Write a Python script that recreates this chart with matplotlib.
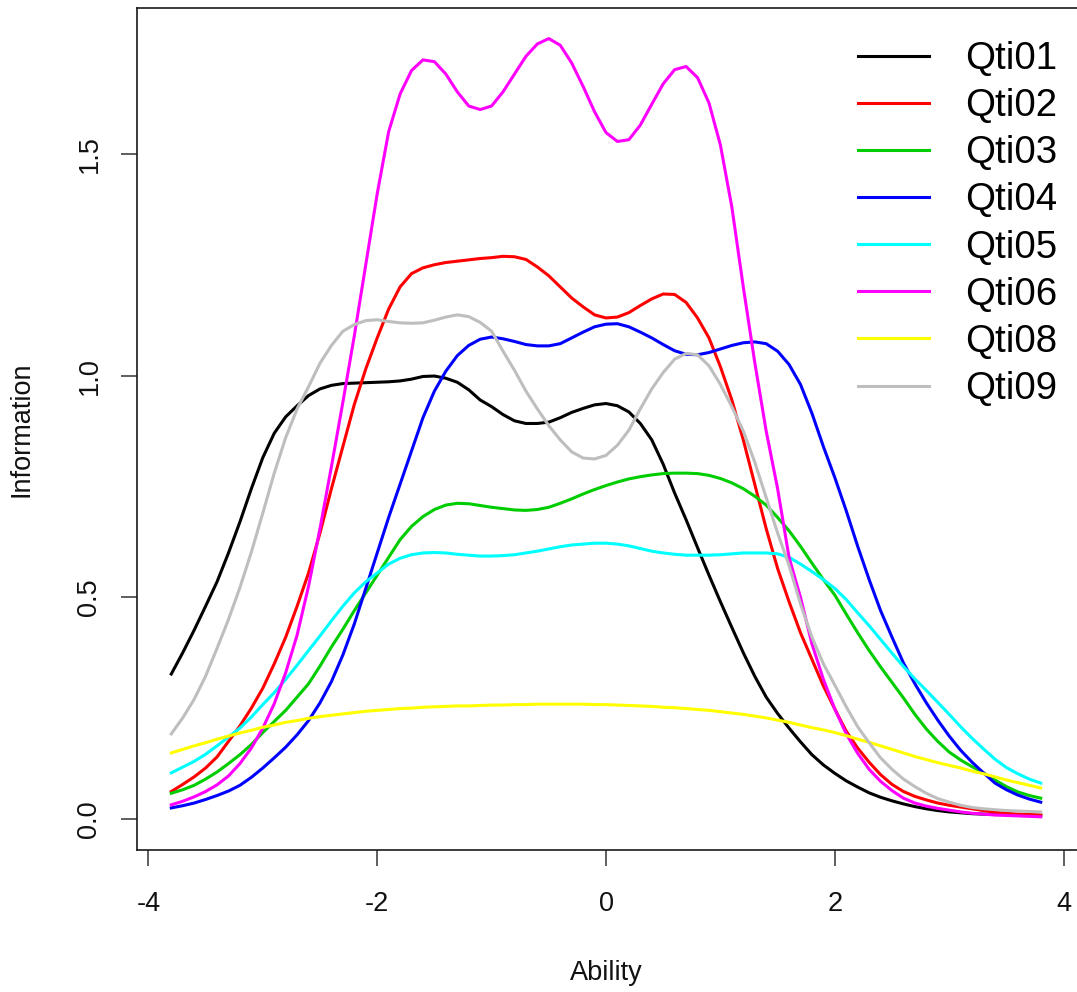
import numpy as np
import matplotlib
matplotlib.use('Agg')
import matplotlib.pyplot as plt

# Ability grid (-3.8 .. 3.8, step 0.1) and item information
ability = np.round(np.linspace(-3.8, 3.8, 77), 2)

qti01 = [0.327, 0.375, 0.426, 0.48, 0.535, 0.60, 0.67, 0.745, 0.815, 0.87,
         0.907, 0.932, 0.955, 0.97, 0.978, 0.982, 0.983, 0.984, 0.985, 0.986,
         0.988, 0.992, 0.998, 0.999, 0.994, 0.985, 0.968, 0.945, 0.93, 0.912,
         0.898, 0.892, 0.892, 0.895, 0.905, 0.917, 0.926, 0.934, 0.937, 0.932,
         0.918, 0.892, 0.855, 0.80, 0.735, 0.675, 0.612, 0.55, 0.49, 0.432,
         0.375, 0.322, 0.275, 0.238, 0.205, 0.174, 0.145, 0.122, 0.103, 0.086,
         0.072, 0.059, 0.049, 0.041, 0.034, 0.028, 0.023, 0.019, 0.016, 0.014,
         0.012, 0.011, 0.010, 0.010, 0.009, 0.009, 0.008]
qti02 = [0.062, 0.078, 0.095, 0.115, 0.14, 0.175, 0.21, 0.25, 0.295, 0.35,
         0.41, 0.48, 0.555, 0.645, 0.745, 0.84, 0.935, 1.015, 1.085, 1.15,
         1.20, 1.23, 1.243, 1.25, 1.255, 1.258, 1.261, 1.264, 1.266, 1.269,
         1.268, 1.262, 1.245, 1.225, 1.20, 1.175, 1.155, 1.137, 1.13, 1.132,
         1.142, 1.158, 1.173, 1.184, 1.183, 1.165, 1.13, 1.085, 1.02, 0.945,
         0.855, 0.755, 0.655, 0.565, 0.49, 0.42, 0.36, 0.30, 0.248, 0.198,
         0.16, 0.128, 0.10, 0.078, 0.062, 0.051, 0.043, 0.036, 0.031, 0.027,
         0.023, 0.019, 0.015, 0.013, 0.011, 0.010, 0.009]
qti03 = [0.058, 0.066, 0.076, 0.09, 0.106, 0.125, 0.145, 0.168, 0.195, 0.22,
         0.245, 0.275, 0.305, 0.345, 0.388, 0.428, 0.47, 0.51, 0.55, 0.59,
         0.63, 0.66, 0.682, 0.698, 0.708, 0.712, 0.711, 0.707, 0.703, 0.700,
         0.697, 0.696, 0.698, 0.703, 0.712, 0.722, 0.733, 0.743, 0.752, 0.76,
         0.767, 0.772, 0.776, 0.779, 0.78, 0.78, 0.779, 0.775, 0.768, 0.758,
         0.745, 0.728, 0.708, 0.68, 0.65, 0.615, 0.577, 0.54, 0.505, 0.462,
         0.42, 0.38, 0.343, 0.308, 0.273, 0.236, 0.203, 0.175, 0.151, 0.133,
         0.118, 0.104, 0.088, 0.073, 0.061, 0.053, 0.047]
qti04 = [0.025, 0.03, 0.036, 0.044, 0.053, 0.063, 0.076, 0.094, 0.115, 0.138,
         0.162, 0.19, 0.222, 0.262, 0.31, 0.37, 0.44, 0.52, 0.60, 0.68,
         0.755, 0.83, 0.905, 0.965, 1.01, 1.045, 1.068, 1.082, 1.087, 1.083,
         1.077, 1.07, 1.067, 1.067, 1.072, 1.085, 1.098, 1.11, 1.116, 1.117,
         1.11, 1.098, 1.085, 1.07, 1.056, 1.048, 1.047, 1.052, 1.06, 1.068,
         1.074, 1.076, 1.072, 1.055, 1.025, 0.98, 0.915, 0.84, 0.77, 0.695,
         0.615, 0.54, 0.47, 0.41, 0.352, 0.305, 0.262, 0.223, 0.187, 0.155,
         0.128, 0.104, 0.081, 0.066, 0.054, 0.045, 0.038]
qti05 = [0.104, 0.117, 0.13, 0.146, 0.165, 0.185, 0.205, 0.23, 0.258, 0.285,
         0.315, 0.347, 0.38, 0.413, 0.447, 0.48, 0.51, 0.535, 0.555, 0.575,
         0.588, 0.596, 0.60, 0.601, 0.60, 0.597, 0.595, 0.593, 0.593, 0.594,
         0.596, 0.60, 0.604, 0.609, 0.614, 0.618, 0.62, 0.622, 0.622, 0.62,
         0.616, 0.61, 0.604, 0.60, 0.597, 0.595, 0.595, 0.595, 0.596, 0.598,
         0.60, 0.60, 0.60, 0.598, 0.59, 0.575, 0.558, 0.54, 0.52, 0.495,
         0.465, 0.436, 0.405, 0.374, 0.344, 0.316, 0.29, 0.263, 0.236, 0.208,
         0.182, 0.158, 0.135, 0.116, 0.102, 0.09, 0.081]
qti06 = [0.032, 0.04, 0.05, 0.062, 0.077, 0.097, 0.125, 0.16, 0.205, 0.26,
         0.33, 0.415, 0.525, 0.655, 0.795, 0.94, 1.09, 1.25, 1.41, 1.55,
         1.635, 1.688, 1.712, 1.708, 1.68, 1.64, 1.608, 1.600, 1.608, 1.64,
         1.68, 1.72, 1.748, 1.760, 1.745, 1.705, 1.652, 1.595, 1.548, 1.528,
         1.532, 1.565, 1.612, 1.658, 1.69, 1.697, 1.672, 1.615, 1.52, 1.38,
         1.20, 1.03, 0.875, 0.745, 0.59, 0.50, 0.395, 0.315, 0.248, 0.192,
         0.148, 0.112, 0.085, 0.064, 0.047, 0.036, 0.029, 0.024, 0.02, 0.016,
         0.013, 0.011, 0.009, 0.008, 0.007, 0.006, 0.005]
qti08 = [0.149, 0.157, 0.165, 0.172, 0.18, 0.187, 0.194, 0.2, 0.207, 0.212,
         0.218, 0.222, 0.227, 0.231, 0.234, 0.237, 0.24, 0.243, 0.245, 0.247,
         0.249, 0.25, 0.252, 0.253, 0.254, 0.255, 0.255, 0.256, 0.257, 0.257,
         0.258, 0.258, 0.259, 0.259, 0.259, 0.259, 0.259, 0.258, 0.258, 0.257,
         0.256, 0.255, 0.254, 0.252, 0.251, 0.249, 0.247, 0.245, 0.242, 0.239,
         0.236, 0.232, 0.228, 0.223, 0.218, 0.212, 0.206, 0.201, 0.195, 0.188,
         0.18, 0.173, 0.165, 0.157, 0.149, 0.141, 0.134, 0.127, 0.121, 0.115,
         0.108, 0.102, 0.095, 0.088, 0.082, 0.076, 0.07]
qti09 = [0.192, 0.228, 0.27, 0.322, 0.385, 0.45, 0.522, 0.602, 0.69, 0.78,
         0.86, 0.925, 0.975, 1.028, 1.068, 1.1, 1.115, 1.124, 1.126, 1.122,
         1.119, 1.118, 1.119, 1.125, 1.132, 1.137, 1.133, 1.12, 1.10, 1.055,
         1.012, 0.965, 0.925, 0.887, 0.855, 0.828, 0.814, 0.812, 0.82, 0.843,
         0.877, 0.925, 0.97, 1.007, 1.037, 1.05, 1.047, 1.022, 0.98, 0.93,
         0.875, 0.805, 0.725, 0.645, 0.572, 0.485, 0.41, 0.35, 0.302, 0.253,
         0.208, 0.172, 0.138, 0.112, 0.09, 0.073, 0.058, 0.046, 0.038, 0.031,
         0.026, 0.023, 0.021, 0.019, 0.018, 0.017, 0.016]

items = ['Qti01', 'Qti02', 'Qti03', 'Qti04', 'Qti05', 'Qti06', 'Qti08', 'Qti09']
series = [qti01, qti02, qti03, qti04, qti05, qti06, qti08, qti09]
colors = ['#000000', '#FF0000', '#00CD00', '#0000FF',
          '#00FFFF', '#FF00FF', '#FFFF00', '#BEBEBE']

plt.rcParams['font.family'] = ['Liberation Sans', 'DejaVu Sans']
plt.rcParams['axes.unicode_minus'] = False

# Create figure
fig = plt.figure(figsize=(10.77, 9.92), dpi=100)
ax = fig.add_axes([136.5 / 1077, 142 / 992, 940.5 / 1077, 842 / 992])

# Plot variables
for name, vals, col in zip(items, series, colors):
    ax.plot(ability, vals, '-', color=col, linewidth=2.2, label=name)

ax.set_xlim(-4.104, 4.117)
ax.set_ylim(-0.0699, 1.829)
ax.set_xticks([-4, -2, 0, 2, 4])
ax.set_yticks([0.0, 0.5, 1.0, 1.5])
ax.set_yticklabels(['0.0', '0.5', '1.0', '1.5'], rotation=90, va='center')

for side in ['left', 'top', 'bottom']:
    ax.spines[side].set_color('#1a1a1a')
    ax.spines[side].set_linewidth(1.2)
ax.spines['right'].set_visible(False)

ax.tick_params(axis='both', length=11.5, width=1.1, color='#333333',
               labelsize=19.5, labelcolor='#111111')
ax.tick_params(axis='x', pad=18)
ax.tick_params(axis='y', pad=13)

# Tuning labels
ax.set_xlabel('Ability', fontsize=19.5, labelpad=31, color='#111111')
ax.set_ylabel('Information', fontsize=19.5, labelpad=30, color='#111111')

ax.legend(loc='upper left', bbox_to_anchor=(858 / 1077, 1 - 41 / 992),
          bbox_transform=fig.transFigure, frameon=False, fontsize=27.7,
          borderpad=0, borderaxespad=0, handlelength=1.84,
          handletextpad=0.94, labelspacing=0.29)

# Save
fig.savefig('out.png', dpi=100)
plt.close(fig)
